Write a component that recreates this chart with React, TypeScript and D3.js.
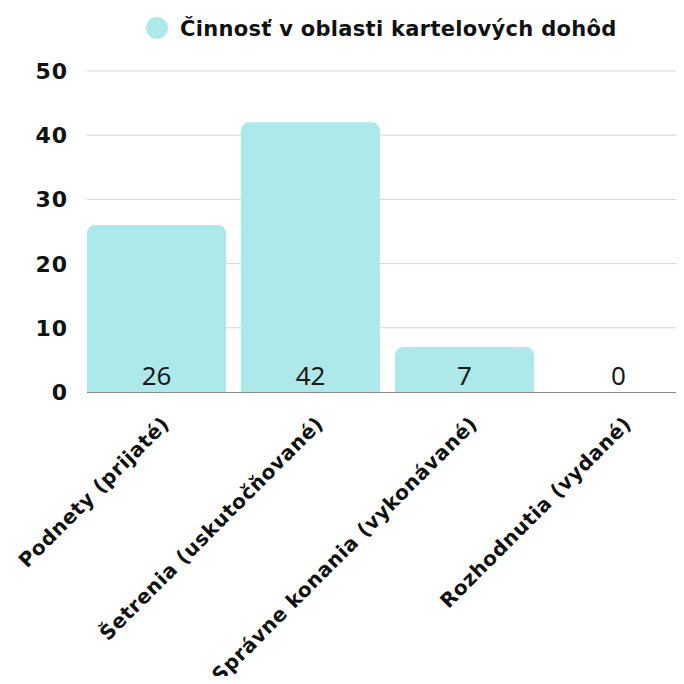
import { useEffect, useRef } from "react";
import * as d3 from "d3";

const categories = [
  "Podnety (prijaté)",
  "Šetrenia (uskutočňované)",
  "Správne konania (vykonávané)",
  "Rozhodnutia (vydané)",
];
const values = [26, 42, 7, 0];
const yTicks = [0, 10, 20, 30, 40, 50];
const seriesName = "Činnosť v oblasti kartelových dohôd";

const BAR_COLOR = "#ade9eb";
const BOLD_FONT = "'DejaVu Sans', sans-serif";
const FONT = "'Noto Sans', sans-serif";

export default function App() {
  const svgRef = useRef<SVGSVGElement>(null);

  useEffect(() => {
    if (!svgRef.current) return;
    const width = 684;
    const height = 684;
    const svg = d3.select(svgRef.current);
    svg.selectAll("*").remove();
    svg.attr("width", width).attr("height", height);

    const left = 87;
    const top = 71;
    const bottom = 392;

    const x = d3
      .scaleBand<string>()
      .domain(categories)
      .range([left, 688])
      .paddingInner(0.097)
      .paddingOuter(0);

    const y = d3.scaleLinear().domain([0, 50]).range([bottom, top]);

    // Grid lines
    yTicks.forEach((t) => {
      if (t === 0) return;
      svg
        .append("line")
        .attr("x1", left)
        .attr("x2", width)
        .attr("y1", y(t))
        .attr("y2", y(t))
        .attr("stroke", "#d4d4d4")
        .attr("stroke-width", 1);
    });

    // Y tick labels
    yTicks.forEach((t) => {
      svg
        .append("text")
        .attr("x", 68)
        .attr("y", y(t))
        .attr("dy", "0.36em")
        .attr("text-anchor", "end")
        .attr("font-family", BOLD_FONT)
        .attr("font-weight", 700)
        .attr("font-size", "22px")
        .attr("letter-spacing", "1px")
        .attr("fill", "#111")
        .text(t);
    });

    // Bars with rounded top corners
    const r = 8;
    categories.forEach((c, i) => {
      const v = values[i];
      const x0 = x(c) ?? 0;
      const bw = x.bandwidth();
      const yTop = y(v);
      const h = bottom - yTop;
      if (h > 0) {
        const rr = Math.min(r, h);
        const p = d3.path();
        p.moveTo(x0, bottom);
        p.lineTo(x0, yTop + rr);
        p.arcTo(x0, yTop, x0 + rr, yTop, rr);
        p.lineTo(x0 + bw - rr, yTop);
        p.arcTo(x0 + bw, yTop, x0 + bw, yTop + rr, rr);
        p.lineTo(x0 + bw, bottom);
        p.closePath();
        svg.append("path").attr("d", p.toString()).attr("fill", BAR_COLOR);
      }
      svg
        .append("text")
        .attr("x", x0 + bw / 2)
        .attr("y", 376)
        .attr("dy", "0.36em")
        .attr("text-anchor", "middle")
        .attr("font-family", FONT)
        .attr("font-size", "26px")
        .attr("fill", "#1a1a1a")
        .text(v);
    });

    // Baseline
    svg
      .append("line")
      .attr("x1", left)
      .attr("x2", width)
      .attr("y1", bottom + 0.5)
      .attr("y2", bottom + 0.5)
      .attr("stroke", "#8a8a8a")
      .attr("stroke-width", 1.2);

    // X labels rotated
    categories.forEach((c) => {
      const cx = (x(c) ?? 0) + x.bandwidth() / 2 + 9;
      const cy = 420;
      svg
        .append("text")
        .attr("transform", `translate(${cx},${cy}) rotate(-45)`)
        .attr("dy", "0.36em")
        .attr("text-anchor", "end")
        .attr("font-family", BOLD_FONT)
        .attr("font-weight", 700)
        .attr("font-size", "20px")
        .attr("letter-spacing", "0.6px")
        .attr("fill", "#111")
        .text(c);
    });

    // Legend
    svg.append("circle").attr("cx", 157).attr("cy", 28).attr("r", 11).attr("fill", BAR_COLOR);
    svg
      .append("text")
      .attr("x", 180)
      .attr("y", 28)
      .attr("dy", "0.36em")
      .attr("font-family", BOLD_FONT)
      .attr("font-weight", 700)
      .attr("font-size", "21px")
      .attr("letter-spacing", "0.3px")
      .attr("fill", "#111")
      .text(seriesName);
  }, []);

  return (
    <div style={{ margin: -8 }}>
      <svg ref={svgRef} style={{ display: "block" }} />
    </div>
  );
}
